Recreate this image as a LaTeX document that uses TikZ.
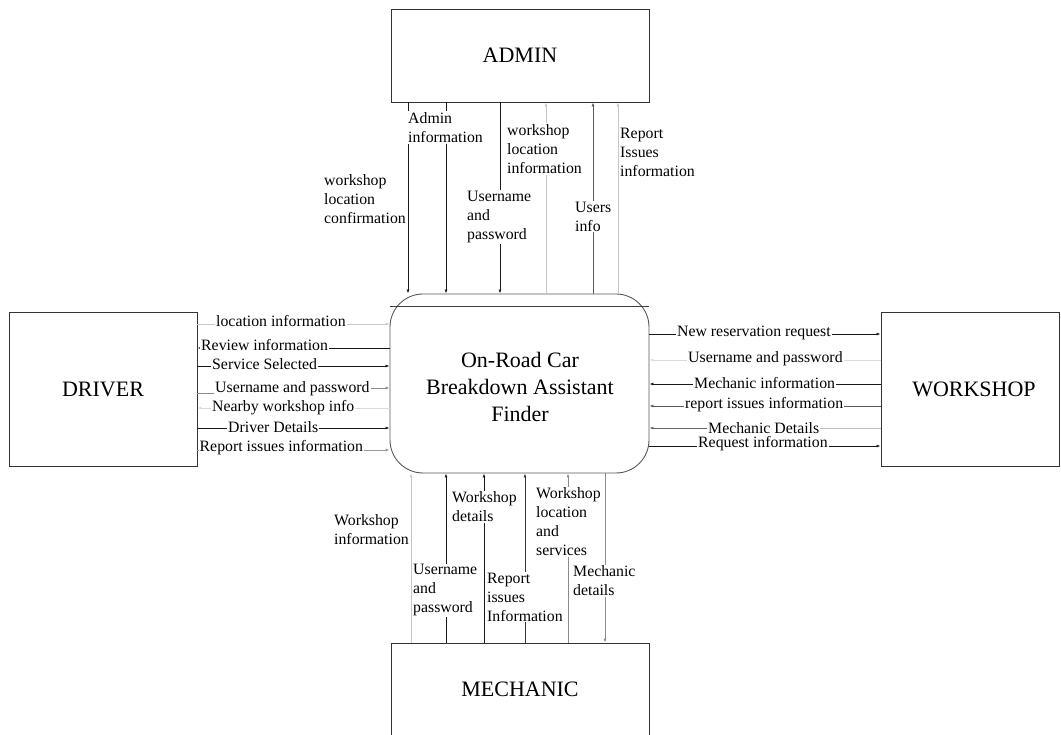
\documentclass[tikz,border=0pt]{standalone}
\usepackage{fontspec}
\setmainfont{Liberation Serif}
\usetikzlibrary{arrows.meta}

\definecolor{cblack}{gray}{0.1}
\definecolor{cdark}{gray}{0.35}
\definecolor{cmid}{gray}{0.55}
\definecolor{clight}{gray}{0.78}
\definecolor{cfaint}{gray}{0.86}

\begin{document}
\begin{tikzpicture}[x=1pt,y=-1pt,
  ent/.style={draw=black!80, line width=0.9pt, font=\fontsize{22}{26}\selectfont, inner sep=0pt},
  sysbox/.style={draw=black!65, line width=0.9pt, rounded corners=33pt,
                 minimum width=259pt, minimum height=179pt, inner sep=0pt},
  title/.style={font=\fontsize{22}{27}\selectfont, align=center, inner sep=0pt},
  lbl/.style={font=\fontsize{15.8}{19}\selectfont, align=left, fill=white, inner sep=1pt, anchor=west},
  side/.style={lbl, fill=none},
  flow/.style={line width=0.8pt, draw=cblack, -{Latex[length=4pt,width=3pt]}},
  plain/.style={line width=0.8pt}
]
\useasboundingbox (0,0) rectangle (1061,735);
\begin{scope}
\clip (0,0) rectangle (1061,735);

% external entities and the process
\node[ent, minimum width=258pt, minimum height=93pt] (admin) at (520,55.5) {ADMIN};
\node[ent, minimum width=188pt, minimum height=154pt] (driver) at (103,389) {DRIVER};
\node[ent, minimum width=178pt, minimum height=154pt] (workshop) at (970,389) {\hspace*{8pt}WORKSHOP};
\node[ent, minimum width=258pt, minimum height=93pt] (mechanic) at (520,689.5) {MECHANIC};
\node[sysbox] (sys) at (519.5,383.5) {};
\node[title] (systitle) at (520,387) {On-Road Car\\Breakdown Assistant\\Finder};

% rule across the top of the process
\coordinate (h1) at (0,306);
\draw[plain, black!75] (sys.west |- h1) -- (sys.east |- h1);

% columns of the admin flows
\coordinate (t1) at (408,0);
\coordinate (t2) at (446,0);
\coordinate (t3) at (500,0);
\coordinate (t4) at (546,0);
\coordinate (t5) at (593,0);
\coordinate (t6) at (618,0);
\draw[flow] (admin.south -| t1) -- (sys.north -| t1);
\draw[flow] (admin.south -| t2) -- (sys.north -| t2);
\draw[flow] (admin.south -| t3) -- (sys.north -| t3);
\draw[flow, draw=clight] (sys.north -| t4) -- (admin.south -| t4);
\draw[flow, draw=cdark] (sys.north -| t5) -- (admin.south -| t5);
\draw[flow, draw=clight] (sys.north -| t6) -- (admin.south -| t6);

% columns of the mechanic flows
\coordinate (b1) at (411,0);
\coordinate (b2) at (446,0);
\coordinate (b3) at (484,0);
\coordinate (b4) at (525,0);
\coordinate (b5) at (568,0);
\coordinate (b6) at (605,0);
\draw[flow, draw=clight] (mechanic.north -| b1) -- (sys.south -| b1);
\draw[flow] (mechanic.north -| b2) -- (sys.south -| b2);
\draw[flow] (mechanic.north -| b3) -- (sys.south -| b3);
\draw[flow, draw=black!80] (mechanic.north -| b4) -- (sys.south -| b4);
\draw[flow, draw=cmid] (mechanic.north -| b5) -- (sys.south -| b5);
\draw[flow, draw=cmid] (sys.south -| b6) -- (mechanic.north -| b6);

% rows of the driver flows
\coordinate (r1) at (0,324);
\coordinate (r2) at (0,348);
\coordinate (r3) at (0,366);
\coordinate (r4a) at (290,393);
\coordinate (r4b) at (290,388);
\coordinate (r5) at (0,408);
\coordinate (r6) at (0,428);
\coordinate (r7) at (0,450);
\draw[flow, draw=clight] (driver.east |- r1) -- (sys.west |- r1);
\draw[flow] (sys.west |- r2) -- (driver.east |- r2);
\draw[flow] (driver.east |- r3) -- (sys.west |- r3);
\draw[flow, draw=cmid] (driver.east |- r4a) -- (r4a) -- (r4b) -- (sys.west |- r4b);
\draw[flow, draw=cfaint] (sys.west |- r5) -- (driver.east |- r5);
\draw[flow] (driver.east |- r6) -- (sys.west |- r6);
\draw[flow, draw=black!40] (driver.east |- r7) -- (sys.west |- r7);

% rows of the workshop flows
\coordinate (w1) at (0,334);
\coordinate (w2) at (0,360);
\coordinate (w3) at (0,384);
\coordinate (w4) at (0,406);
\coordinate (w5) at (0,428);
\coordinate (w5m) at (760,428);
\coordinate (w6) at (0,446);
\draw[flow] (sys.east |- w1) -- (workshop.west |- w1);
\draw[flow, draw=cfaint] (workshop.west |- w2) -- (sys.east |- w2);
\draw[flow] (workshop.west |- w3) -- (sys.east |- w3);
\draw[flow, draw=cdark] (workshop.west |- w4) -- (sys.east |- w4);
\draw[plain, draw=black!25] (workshop.west |- w5) -- (w5m);
\draw[flow, draw=black!60] (w5m) -- (sys.east |- w5);
\draw[flow] (sys.east |- w6) -- (workshop.west |- w6);

% labels of the admin flows
\node[side] (lt1) at (323,199) {workshop\\location\\confirmation};
\node[lbl]  (lt2) at (407,127.5) {Admin\\information};
\node[lbl]  (lt3) at (466,217) {Username\\and\\password};
\node[lbl]  (lt4) at (506,149) {workshop\\location\\information};
\node[lbl]  (lt5) at (574,216.5) {Users\\info};
\node[side] (lt6) at (619,152) {Report\\Issues\\information};

% labels of the mechanic flows
\node[side] (lb1) at (333,530) {Workshop\\information};
\node[lbl]  (lb2) at (412,590.5) {Username\\and\\password};
\node[lbl]  (lb3) at (451,507) {Workshop\\details};
\node[lbl]  (lb4) at (486,597) {Report\\issues\\Information};
\node[lbl]  (lb5) at (535,522) {Workshop\\location\\and\\services};
\node[lbl]  (lb6) at (572,581) {Mechanic\\details};

% labels of the driver flows
\node[lbl] (ld1) at (215,321) {location information};
\node[lbl] (ld2) at (200,345) {Review information};
\node[lbl] (ld3) at (211,364) {Service Selected};
\node[lbl] (ld4) at (214,389) {Username and password};
\node[lbl] (ld5) at (211,408) {Nearby workshop info};
\node[lbl] (ld6) at (227,427) {Driver Details};
\node[lbl] (ld7) at (198.5,448) {Report issues information};

% labels of the workshop flows
\node[lbl] (lw1) at (676,333) {New reservation request};
\node[lbl] (lw2) at (687,359) {Username and password};
\node[lbl] (lw3) at (693,383) {Mechanic information};
\node[lbl] (lw4) at (684,405) {report issues information};
\node[lbl] (lw5) at (707,428) {Mechanic Details};
\node[lbl] (lw6) at (697,444) {Request information};
\end{scope}
\end{tikzpicture}
\end{document}
